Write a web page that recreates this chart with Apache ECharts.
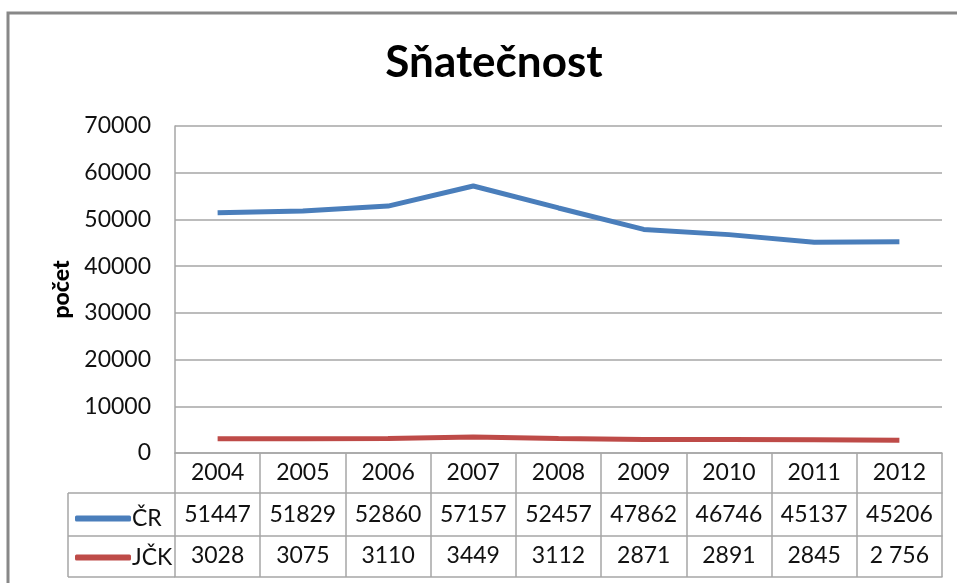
<!DOCTYPE html>
<html>
<head>
<meta charset="utf-8">
<script src="https://cdn.jsdelivr.net/npm/echarts@6/dist/echarts.min.js"></script>
<style>
  html, body { margin: 0; padding: 0; background: #fff; }
  #chart { width: 957px; height: 583px; }
</style>
</head>
<body>
<div id="chart"></div>
<script>
const years = ['2004', '2005', '2006', '2007', '2008', '2009', '2010', '2011', '2012']
const crValues = [51447, 51829, 52860, 57157, 52457, 47862, 46746, 45137, 45206]
const jckValues = [3028, 3075, 3110, 3449, 3112, 2871, 2891, 2845, 2756]
const jckLabels = ['3028', '3075', '3110', '3449', '3112', '2871', '2891', '2845', '2 756']
const yTicks = [0, 10000, 20000, 30000, 40000, 50000, 60000, 70000]

const font = 'Lato, "Open Sans", sans-serif'
const gridColor = '#a6a6a6'
const textColor = '#111'
const labelSize = 23

const chart = echarts.init(document.getElementById('chart'))

function tableAxis(data, offset, margin, showLabel) {
  return {
    type: 'category',
    data,
    position: 'bottom',
    offset,
    boundaryGap: true,
    axisLine: { show: true, lineStyle: { color: gridColor, width: 1.5 } },
    axisTick: { show: false },
    axisLabel: {
      show: showLabel,
      interval: 0,
      margin,
      fontSize: labelSize,
      fontFamily: font,
      color: textColor,
      verticalAlign: 'middle',
    },
    splitLine: { show: false },
  }
}

chart.setOption({
  animation: false,
  title: {
    text: 'Sňatečnost',
    left: 489,
    textAlign: 'center',
    top: 36,
    textStyle: { fontSize: 44, fontWeight: 'bold', fontFamily: font, color: '#000' },
  },
  grid: { left: 175, right: 15, top: 126, bottom: 130, containLabel: false },
  legend: {
    orient: 'vertical',
    left: 70,
    top: 502,
    itemWidth: 56,
    itemHeight: 6,
    itemGap: 16,
    icon: 'roundRect',
    textStyle: { fontSize: labelSize, fontFamily: font, color: textColor, padding: [0, 0, 0, -4] },
    data: ['ČR', 'JČK'],
  },
  xAxis: [
    {
      type: 'category',
      data: years,
      position: 'bottom',
      boundaryGap: true,
      axisLine: { show: true, lineStyle: { color: gridColor, width: 1.5 } },
      axisTick: { show: true, interval: 0, length: 124, lineStyle: { color: gridColor, width: 1.5 } },
      axisLabel: {
        interval: 0,
        margin: 20,
        fontSize: labelSize,
        fontFamily: font,
        color: textColor,
        verticalAlign: 'middle',
      },
    },
    tableAxis(crValues.map(String), 40, 22, true),
    tableAxis(jckLabels, 83, 20, true),
    tableAxis(years, 124, 0, false),
  ],
  yAxis: {
    type: 'value',
    min: yTicks[0],
    max: yTicks[yTicks.length - 1],
    interval: yTicks[1] - yTicks[0],
    name: 'počet',
    nameLocation: 'middle',
    nameGap: 100,
    nameRotate: 90,
    nameTextStyle: { fontSize: 23, fontWeight: 900, fontFamily: font, color: '#000' },
    axisLine: { show: true, lineStyle: { color: gridColor, width: 1.5 } },
    axisTick: { show: false },
    axisLabel: { fontSize: labelSize, fontFamily: font, color: textColor, margin: 24, formatter: (v) => String(v) },
    splitLine: { lineStyle: { color: gridColor, width: 1.5 } },
  },
  series: [
    {
      name: 'ČR',
      type: 'line',
      data: crValues,
      symbol: 'none',
      lineStyle: { color: '#4a7ebb', width: 5 },
      itemStyle: { color: '#4a7ebb' },
    },
    {
      name: 'JČK',
      type: 'line',
      data: jckValues,
      symbol: 'none',
      lineStyle: { color: '#be4b48', width: 5 },
      itemStyle: { color: '#be4b48' },
    },
  ],
})

// outer frame and the legend cell of the data table, placed from the axis scale
const left = chart.convertToPixel({ xAxisIndex: 0 }, 0) - (chart.convertToPixel({ xAxisIndex: 0 }, 1) - chart.convertToPixel({ xAxisIndex: 0 }, 0)) / 2
const zeroY = chart.convertToPixel({ yAxisIndex: 0 }, 0)
const rowTops = [zeroY + 40, zeroY + 83, zeroY + 124]
const lineStyle = { stroke: gridColor, lineWidth: 1.5 }
chart.setOption({
  graphic: [
    { type: 'rect', shape: { x: 8, y: 13, width: 1000, height: 700 }, style: { fill: 'none', stroke: '#888', lineWidth: 3 }, silent: true },
    { type: 'line', shape: { x1: 68, y1: rowTops[0], x2: 68, y2: rowTops[2] }, style: lineStyle, silent: true },
    ...rowTops.map((y) => ({ type: 'line', shape: { x1: 68, y1: y, x2: left, y2: y }, style: lineStyle, silent: true })),
  ],
})
</script>
</body>
</html>
